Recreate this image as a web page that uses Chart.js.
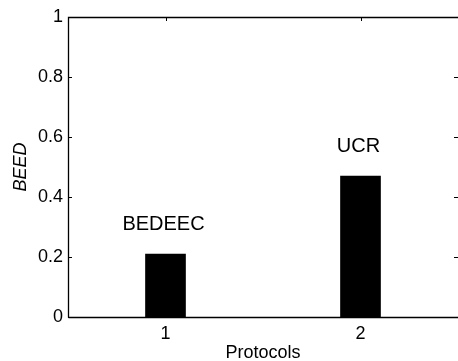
<!DOCTYPE html>
<html>
<head>
<meta charset="utf-8">
<script src="https://cdn.jsdelivr.net/npm/chart.js@4/dist/chart.umd.min.js"></script>
<style>
  html, body { margin: 0; padding: 0; background: #fff; }
  #wrap { width: 458px; height: 361px; }
</style>
</head>
<body>
<div id="wrap"><canvas id="c" width="458" height="361"></canvas></div>
<script>
// ---- data ----
const categories = [1, 2];
const protocolNames = ['BEDEEC', 'UCR'];
const beedValues = [0.21, 0.47];
const yTickValues = [0, 0.2, 0.4, 0.6, 0.8, 1];
const xTickValues = [1, 2];

const FONT = '"Liberation Sans", Arial, Helvetica, sans-serif';

const boxPlugin = {
  id: 'matlabBox',
  beforeDatasetsDraw(chart) {
    const { ctx, chartArea: a, scales: { x, y } } = chart;
    ctx.save();
    ctx.strokeStyle = '#000';
    ctx.lineWidth = 1;
    const tl = 4;
    ctx.beginPath();
    yTickValues.forEach(v => {
      const py = Math.round(y.getPixelForValue(v)) + 0.5;
      ctx.moveTo(a.left, py); ctx.lineTo(a.left + tl, py);
      ctx.moveTo(a.right, py); ctx.lineTo(a.right - tl, py);
    });
    xTickValues.forEach(v => {
      const px = Math.round(x.getPixelForValue(v)) + 0.5;
      ctx.moveTo(px, a.top); ctx.lineTo(px, a.top + tl);
      ctx.moveTo(px, a.bottom); ctx.lineTo(px, a.bottom - tl);
    });
    ctx.stroke();
    ctx.restore();
  },
  afterDatasetsDraw(chart) {
    const { ctx, chartArea: a, scales: { x, y } } = chart;
    ctx.save();
    ctx.strokeStyle = '#000';
    ctx.lineWidth = 1.3;
    ctx.beginPath();
    const L = Math.round(a.left) + 0.5, T = Math.round(a.top) + 0.5, B = Math.round(a.bottom) + 0.5;
    ctx.moveTo(L, B); ctx.lineTo(L, T); ctx.lineTo(a.right + 2, T);
    ctx.moveTo(L, B); ctx.lineTo(a.right + 2, B);
    ctx.stroke();
    ctx.fillStyle = '#000';
    ctx.font = '20px ' + FONT;
    ctx.textAlign = 'center';
    ctx.textBaseline = 'alphabetic';
    categories.forEach((c, i) => {
      const px = x.getPixelForValue(c) - 2;
      const py = y.getPixelForValue(beedValues[i] + 0.08);
      ctx.fillText(protocolNames[i], px, py);
    });
    ctx.restore();
  }
};

new Chart(document.getElementById('c'), {
  type: 'bar',
  data: {
    datasets: [{
      data: categories.map((c, i) => ({ x: c, y: beedValues[i] })),
      backgroundColor: '#000',
      borderWidth: 0,
      barThickness: 40
    }]
  },
  options: {
    responsive: false,
    animation: false,
    devicePixelRatio: 1,
    layout: { padding: { top: 17, left: 0, right: 0, bottom: 0 } },
    plugins: { legend: { display: false }, tooltip: { enabled: false } },
    scales: {
      x: {
        type: 'linear',
        min: 0.5, max: 2.5,
        offset: false,
        grid: { display: false, drawTicks: false },
        border: { display: false },
        afterBuildTicks: s => { s.ticks = xTickValues.map(v => ({ value: v })); },
        afterFit: s => { s.height = 44; },
        ticks: {
          color: '#000',
          font: { family: FONT, size: 18, lineHeight: 1 },
          padding: 8,
          maxRotation: 0,
          callback: v => String(v)
        },
        title: {
          display: true, text: 'Protocols', color: '#000',
          font: { family: FONT, size: 18, lineHeight: 1 },
          padding: { top: 0, bottom: -1 }
        }
      },
      y: {
        min: 0, max: 1,
        grid: { display: false, drawTicks: false },
        border: { display: false },
        afterBuildTicks: s => { s.ticks = yTickValues.map(v => ({ value: v })); },
        afterFit: s => { s.width = 68; },
        ticks: {
          color: '#000',
          font: { family: FONT, size: 18, lineHeight: 1 },
          padding: 5,
          callback: v => String(v)
        },
        title: {
          display: true, text: 'BEED', color: '#000',
          font: { family: FONT, size: 18, style: 'italic', lineHeight: 1 },
          padding: { top: 12, bottom: 0 }
        }
      }
    }
  },
  plugins: [boxPlugin]
});
</script>
</body>
</html>
